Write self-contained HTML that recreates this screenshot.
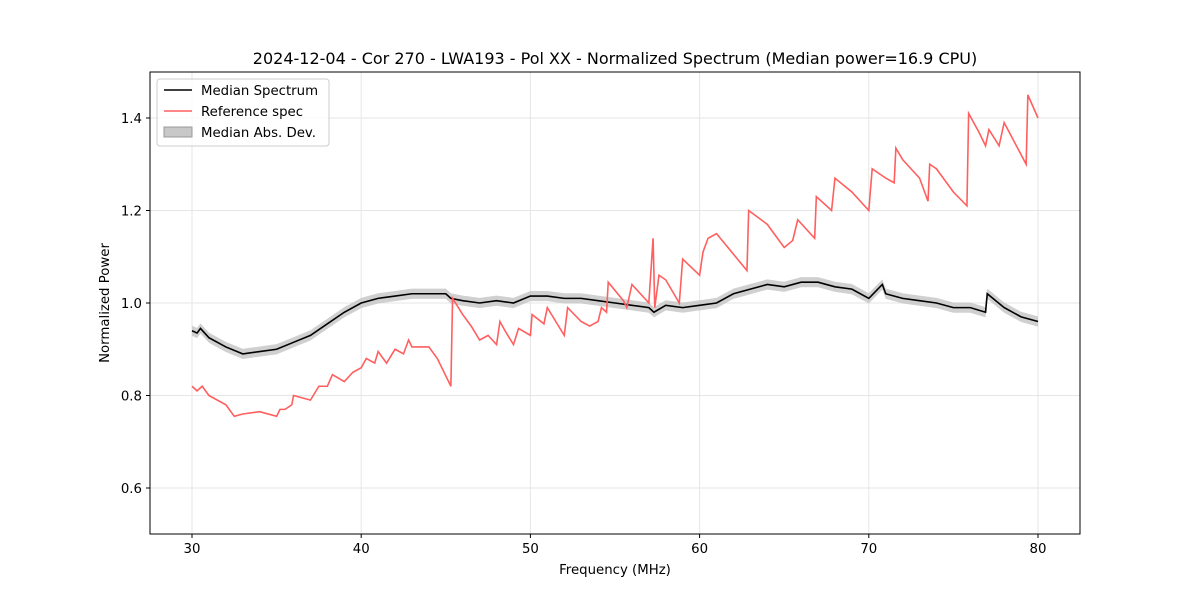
<!DOCTYPE html>
<html><head><meta charset="utf-8"><style>
body{margin:0;background:#fff}
svg text{font-family:"DejaVu Sans","Liberation Sans",sans-serif;fill:#000}
</style></head><body>
<svg id="chart" width="1200" height="600" xmlns="http://www.w3.org/2000/svg">
<rect width="1200" height="600" fill="#fff"/>
<g id="grid"></g>
<g id="band"></g>
<g id="lines"></g>
<rect x="150" y="72" width="930" height="462" fill="none" stroke="#000" stroke-width="1"/>
<g id="ticks"></g>
<text x="615" y="64" text-anchor="middle" font-size="16">2024-12-04 - Cor 270 - LWA193 - Pol XX - Normalized Spectrum (Median power=16.9 CPU)</text>
<text x="615" y="574" text-anchor="middle" font-size="13.3">Frequency (MHz)</text>
<text transform="translate(109,303) rotate(-90)" text-anchor="middle" font-size="13.3">Normalized Power</text>
<g>
<rect x="157" y="79" width="172" height="67" rx="3" fill="#fff" fill-opacity="0.8" stroke="#ccc"/>
<line x1="164" y1="90" x2="192" y2="90" stroke="#000" stroke-width="1.5"/>
<text x="201" y="95" font-size="13.3">Median Spectrum</text>
<line x1="164" y1="111" x2="192" y2="111" stroke="#ff5f5f" stroke-width="1.5"/>
<text x="201" y="116" font-size="13.3">Reference spec</text>
<rect x="164" y="127" width="28" height="10" fill="#c8c8c8" stroke="#999"/>
<text x="201" y="137" font-size="13.3">Median Abs. Dev.</text>
</g>
</svg>
<script>
const xTicks=[30,40,50,60,70,80];
const yTicks=[0.6,0.8,1.0,1.2,1.4];
const yTickLabels=["0.6","0.8","1.0","1.2","1.4"];
const medFreq=[30,30.3,30.5,31,32,33,34,35,36,37,38,39,40,41,42,43,44,45,45.3,46,47,48,49,50,51,52,53,54,55,56,57,57.3,58,59,60,61,62,63,64,65,66,67,68,69,70,70.8,71,72,73,74,75,76,76.9,77,78,79,80];
const medVal=[0.94,0.935,0.945,0.925,0.905,0.89,0.895,0.9,0.915,0.93,0.955,0.98,1.0,1.01,1.015,1.02,1.02,1.02,1.01,1.005,1.0,1.005,1.0,1.015,1.015,1.01,1.01,1.005,1.0,0.995,0.99,0.98,0.995,0.99,0.995,1.0,1.02,1.03,1.04,1.035,1.045,1.045,1.035,1.03,1.01,1.04,1.02,1.01,1.005,1.0,0.99,0.99,0.98,1.02,0.99,0.97,0.96];
const madVal=0.011;
const refFreq=[30,30.3,30.6,31,31.5,32,32.5,33,34,35,35.2,35.5,35.9,36,37,37.5,38,38.3,39,39.5,40,40.3,40.8,41,41.5,42,42.5,42.8,43,44,44.5,45.3,45.4,46,46.5,47,47.5,48,48.2,48.5,49,49.3,50,50.1,50.8,51,51.5,52,52.2,53,53.5,54,54.2,54.5,54.6,55.5,55.7,56,57,57.25,57.35,57.6,58,58.8,59,60,60.2,60.5,61,62.8,62.9,64,65,65.5,65.8,66.8,66.9,67.8,68,69,70,70.2,71,71.5,71.6,72,73,73.5,73.6,74,75,75.8,75.9,76.5,76.9,77.1,77.7,78,79.3,79.4,80];
const refVal=[0.82,0.81,0.82,0.8,0.79,0.78,0.755,0.76,0.765,0.755,0.77,0.77,0.78,0.8,0.79,0.82,0.82,0.845,0.83,0.85,0.86,0.88,0.87,0.895,0.87,0.9,0.89,0.92,0.905,0.905,0.88,0.82,1.01,0.975,0.95,0.92,0.93,0.91,0.96,0.94,0.91,0.945,0.93,0.975,0.955,0.99,0.96,0.93,0.99,0.96,0.95,0.96,0.99,0.98,1.045,1.005,0.99,1.04,1.0,1.14,0.99,1.06,1.05,1.0,1.095,1.06,1.11,1.14,1.15,1.07,1.2,1.17,1.12,1.135,1.18,1.14,1.23,1.2,1.27,1.24,1.2,1.29,1.27,1.26,1.335,1.31,1.27,1.22,1.3,1.29,1.24,1.21,1.41,1.37,1.34,1.375,1.34,1.39,1.3,1.45,1.4];
const X=f=>192+(f-30)*846/50;
const Y=v=>118+(1.4-v)*462.5;
const NS="http://www.w3.org/2000/svg";
function mk(t,a,p){const e=document.createElementNS(NS,t);for(const k in a)e.setAttribute(k,a[k]);p.appendChild(e);return e;}
const grid=document.getElementById('grid'),ticks=document.getElementById('ticks');
xTicks.forEach(t=>{
 const g=mk('line',{x1:X(t),x2:X(t),y1:72,y2:534,stroke:'#e6e6e6'},grid);
 
 
 mk('line',{x1:X(t),x2:X(t),y1:534,y2:538,stroke:'#000'},ticks);
 const l=mk('text',{x:X(t),y:553,'text-anchor':'middle','font-size':13.3},ticks);l.textContent=t;
 
 
});
yTicks.forEach((t,i)=>{
 const g=mk('line',{x1:150,x2:1080,y1:Y(t),y2:Y(t),stroke:'#e6e6e6'},grid);
 
 
 mk('line',{x1:146,x2:150,y1:Y(t),y2:Y(t),stroke:'#000'},ticks);
 const l=mk('text',{x:142,y:Y(t)+5,'text-anchor':'end','font-size':13.3},ticks);l.textContent=yTickLabels[i];
 
 
});
let up=medFreq.map((f,i)=>X(f)+','+Y(medVal[i]+madVal)).join(' ');
let dn=medFreq.map((f,i)=>X(f)+','+Y(medVal[i]-madVal)).reverse().join(' ');
const b=mk('polygon',{points:up+' '+dn,fill:'#c4c4c4','fill-opacity':0.8},document.getElementById('band'));


const lines=document.getElementById('lines');
const m=mk('polyline',{points:medFreq.map((f,i)=>X(f)+','+Y(medVal[i])).join(' '),fill:'none',stroke:'#000','stroke-width':1.6},lines);


const r=mk('polyline',{points:refFreq.map((f,i)=>X(f)+','+Y(refVal[i])).join(' '),fill:'none',stroke:'#ff5f5f','stroke-width':1.6},lines);


</script>
</body></html>
